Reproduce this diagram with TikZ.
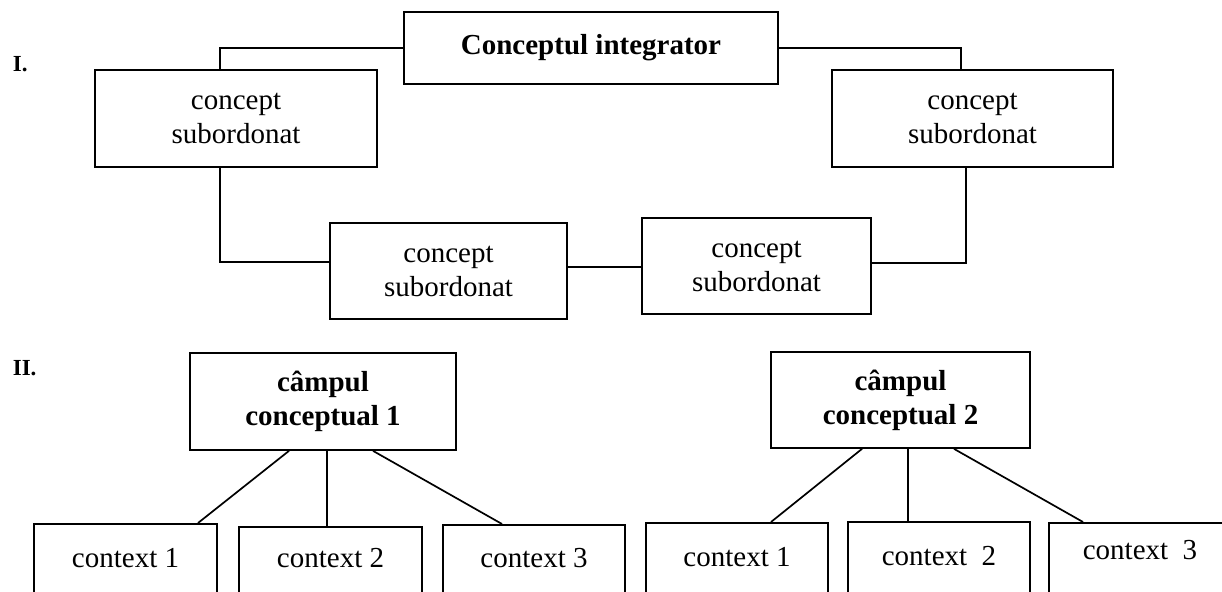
\documentclass[tikz,border=0pt]{standalone}
\usepackage{fontspec}
\setmainfont{Liberation Serif}
\begin{document}
\begin{tikzpicture}[x=1pt,y=-1pt,line width=1.7pt,
  box/.style={draw, inner sep=0pt, align=center, font=\fontsize{29}{34}\selectfont},
  boldbox/.style={box, font=\fontsize{29}{34}\selectfont\bfseries},
  ctx/.style={draw, anchor=north, inner xsep=0pt, inner ysep=0pt, minimum width=182pt,
    text height=44pt, text depth=70pt, font=\fontsize{29}{34}\selectfont},
  lbl/.style={anchor=base west, inner sep=0pt, font=\fontsize{23}{26}\selectfont\bfseries}]
\useasboundingbox (0,0) rectangle (1222,591);
\clip (0,0) rectangle (1222,591);

% Part I
\node[lbl] (lI) at (12,72) {I.};
\node[boldbox, minimum width=374pt, minimum height=72pt] (top) at (591,48) {Conceptul integrator};
\node[box, minimum width=282pt, minimum height=97pt] (L) at (236,118.5) {concept\\subordonat};
\node[box, minimum width=281pt, minimum height=97pt] (R) at (972.5,118.5) {concept\\subordonat};
\node[box, minimum width=237pt, minimum height=96pt] (ML) at (448.5,271) {concept\\subordonat};
\node[box, minimum width=229pt, minimum height=96pt] (MR) at (756.5,266) {concept\\subordonat};

\draw (top.west) -| ([xshift=-16pt]L.north);
\draw (top.east) -| ([xshift=-11.5pt]R.north);
\draw ([xshift=-16pt]L.south) |- ([yshift=9pt]ML.west);
\draw ([yshift=4pt]ML.east) -- ([yshift=-1pt]MR.west);
\draw ([yshift=3pt]MR.east) -| ([xshift=-6.5pt]R.south);

% Part II
\node[lbl] (lII) at (12,375) {II.};
\node[boldbox, minimum width=266pt, minimum height=97pt] (C1) at (323,401.5) {câmpul\\conceptual 1};
\node[boldbox, minimum width=259pt, minimum height=96pt] (C2) at (900.5,400) {câmpul\\conceptual 2};

\node[ctx, minimum width=183pt] (a1) at (125.5,523) {context 1};
\node[ctx, minimum width=183pt, text height=41pt] (a2) at (330.5,526) {context 2};
\node[ctx, text height=43pt] (a3) at (534,524) {context 3};

\node[ctx] (b1) at (737,522) {context 1};
\node[ctx] (b2) at (939,521) {context\ \ 2};
\node[ctx, text height=37pt] (b3) at (1140,522) {context\ \ 3};

\draw ([xshift=-34pt]C1.south) -- ([xshift=72.5pt]a1.north);
\draw ([xshift=4pt]C1.south) -- ([xshift=4pt]C1.south |- a2.north);
\draw ([xshift=50pt]C1.south) -- ([xshift=-32pt]a3.north);

\draw ([xshift=-38.5pt]C2.south) -- ([xshift=34pt]b1.north);
\draw ([xshift=7.5pt]C2.south) -- ([xshift=7.5pt]C2.south |- b2.north);
\draw ([xshift=53.5pt]C2.south) -- ([xshift=-57pt]b3.north);
\end{tikzpicture}
\end{document}
